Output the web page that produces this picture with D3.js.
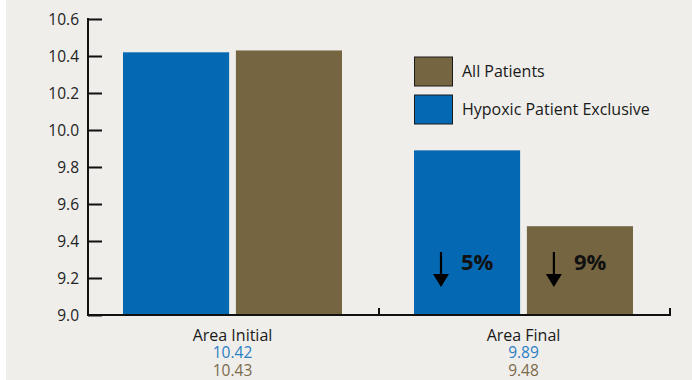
<!DOCTYPE html>
<html><head><meta charset="utf-8">
<script src="https://cdn.jsdelivr.net/npm/d3@7"></script>
<style>
html,body{margin:0;padding:0;background:#fff;}
svg{display:block;font-family:"Open Sans","Noto Sans",sans-serif;}
</style></head>
<body>
<svg id="c" width="692" height="380"></svg>
<script>
const categories = ["Area Initial", "Area Final"];
const seriesNames = ["Hypoxic Patient Exclusive", "All Patients"];
const hypoxic = [10.42, 9.89];
const allPatients = [10.43, 9.48];
const yTicks = [9.0, 9.2, 9.4, 9.6, 9.8, 10.0, 10.2, 10.4, 10.6];
const changeLabels = [["", ""], ["5%", "9%"]];

(function () {
const colors = {"Hypoxic Patient Exclusive": "#0568b2", "All Patients": "#766541"};
const textColors = {"Hypoxic Patient Exclusive": "#2b7fc5", "All Patients": "#7c6a4a"};
const series = [hypoxic, allPatients];

const svg = d3.select("#c");
svg.append("rect").attr("x", 6).attr("y", 0).attr("width", 686).attr("height", 380).attr("fill", "#efeeeb");

const mLeft = 88, mRight = 670, mTop = 19, mBottom = 315;
const y = d3.scaleLinear().domain([9.0, 10.6]).range([mBottom, mTop]);
const x0 = d3.scaleBand().domain(categories).range([mLeft, mRight]).padding(0);
const x1 = d3.scaleBand().domain(seriesNames).range([35, x0.bandwidth() - 37]).paddingInner(0.06);

// bars
categories.forEach((cat, ci) => {
  seriesNames.forEach((s, si) => {
    svg.append("rect")
      .attr("x", x0(cat) + x1(s))
      .attr("y", y(series[si][ci]))
      .attr("width", x1.bandwidth())
      .attr("height", mBottom - y(series[si][ci]))
      .attr("fill", colors[s]);
    const lab = changeLabels[ci][si];
    if (lab) {
      const bx = x0(cat) + x1(s);
      const g = svg.append("g");
      g.append("line").attr("x1", bx + 27).attr("x2", bx + 27).attr("y1", 252).attr("y2", 276)
        .attr("stroke", "#000").attr("stroke-width", 2.2);
      g.append("path").attr("d", `M${bx + 19},274 L${bx + 35},274 L${bx + 27},287 Z`).attr("fill", "#000");
      g.append("text").attr("x", bx + 47).attr("y", 270).attr("font-size", 22).attr("font-weight", "bold")
        .attr("fill", "#111").text(lab);
    }
  });
});

// y axis
const yAxis = d3.axisRight(y).tickValues(yTicks).tickSize(14).tickFormat(d3.format(".1f"));
const ya = svg.append("g").attr("transform", `translate(${mLeft},0)`).call(yAxis);
ya.select(".domain").remove();
ya.selectAll(".tick line").attr("stroke", "#111").attr("stroke-width", 2);
ya.selectAll(".tick text").attr("x", -9).attr("text-anchor", "end").attr("font-size", 15.5)
  .attr("fill", "#222").attr("font-family", "\"Open Sans\",sans-serif").attr("dy", "0.33em");
svg.append("line").attr("x1", mLeft).attr("x2", mLeft).attr("y1", mTop - 1).attr("y2", mBottom + 1)
  .attr("stroke", "#111").attr("stroke-width", 2);

// x axis
svg.append("line").attr("x1", mLeft).attr("x2", mRight + 1).attr("y1", mBottom).attr("y2", mBottom)
  .attr("stroke", "#111").attr("stroke-width", 2);
categories.forEach(cat => {
  const xe = x0(cat) + x0.bandwidth();
  svg.append("line").attr("x1", xe).attr("x2", xe).attr("y1", mBottom).attr("y2", mBottom - 7)
    .attr("stroke", "#111").attr("stroke-width", 2);
});

// category labels with values
categories.forEach((cat, ci) => {
  const cx = x0(cat) + x0.bandwidth() / 2 - 1;
  svg.append("text").attr("x", cx).attr("y", 341).attr("text-anchor", "middle").attr("font-size", 16)
    .attr("fill", "#1a1a1a").text(cat);
  seriesNames.forEach((s, si) => {
    svg.append("text").attr("x", cx).attr("y", 358 + si * 18).attr("text-anchor", "middle").attr("font-size", 15.5)
      .attr("fill", textColors[s]).text(series[si][ci].toFixed(2));
  });
});

// legend
const legendOrder = ["All Patients", "Hypoxic Patient Exclusive"];
legendOrder.forEach((s, i) => {
  const ly = 57 + i * 38;
  svg.append("rect").attr("x", 414.5).attr("y", ly).attr("width", 38).attr("height", 29)
    .attr("fill", colors[s]).attr("stroke", "#1a1a1a").attr("stroke-width", 1);
  svg.append("text").attr("x", 462).attr("y", ly + 20).attr("font-size", 16).attr("fill", "#1a1a1a").text(s);
});
})();
</script>
</body></html>
